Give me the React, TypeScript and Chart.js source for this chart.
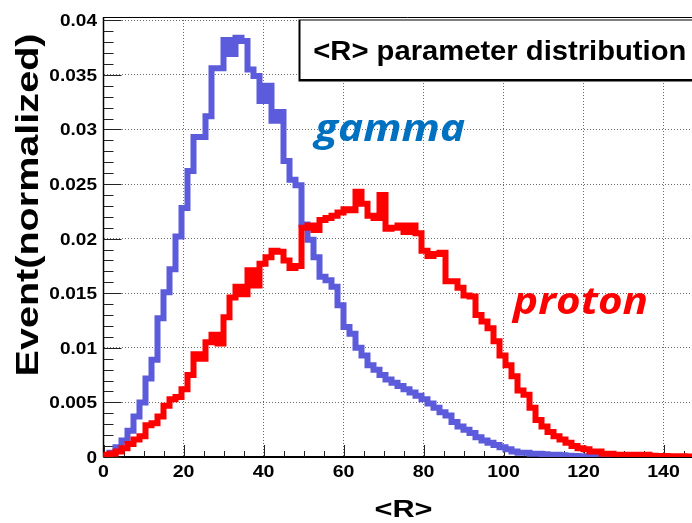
import React, { useEffect, useRef } from 'react';
import { Chart, registerables } from 'chart.js';

Chart.register(...registerables);

// Histogram binning: 100 bins of width 1.5 starting at 0
const BIN_WIDTH = 1.5;

// Normalized <R> distribution, gamma-ray events (one value per bin)
const GAMMA = [
  0.0001, 0.0004, 0.0009, 0.0015, 0.0024, 0.0037, 0.005, 0.0072, 0.0089, 0.0127,
  0.0151, 0.0172, 0.0202, 0.0228, 0.0262, 0.0293, 0.0293, 0.0312, 0.0356, 0.0356,
  0.0382, 0.0369, 0.0384, 0.0381, 0.0355, 0.0349, 0.0326, 0.034, 0.0308, 0.0316,
  0.0271, 0.0254, 0.0249, 0.0213, 0.0199, 0.0183, 0.0165, 0.0162, 0.0156, 0.0139,
  0.0119, 0.0113, 0.01, 0.0093, 0.0084, 0.008, 0.0075, 0.0071, 0.0068, 0.0065,
  0.0062, 0.0059, 0.0056, 0.0053, 0.0049, 0.0045, 0.0041, 0.0038, 0.0032, 0.0028,
  0.0025, 0.0022, 0.0018, 0.0015, 0.0013, 0.0011, 0.0009, 0.0007, 0.0005, 0.0004,
  0.0004, 0.0003, 0.0003, 0.00025, 0.0002, 0.0002, 0.00015, 0.00012, 0.0001, 0.00008,
  0.00007, 0.00005, 0.00004, 0.00003, 0.00002, 0, 0, 0, 0, 0,
  0, 0, 0, 0, 0, 0, 0, 0, 0, 0,
];

// Normalized <R> distribution, proton events (one value per bin)
const PROTON = [
  0.0002, 0.0003, 0.0005, 0.0008, 0.0012, 0.0016, 0.0019, 0.0029, 0.0031, 0.0037,
  0.0047, 0.0053, 0.0055, 0.0062, 0.0075, 0.0094, 0.009, 0.0105, 0.0112, 0.0104,
  0.0128, 0.0146, 0.0156, 0.0149, 0.0171, 0.0157, 0.0177, 0.0183, 0.0189, 0.0188,
  0.018, 0.0173, 0.0175, 0.021, 0.0212, 0.0208, 0.0217, 0.0219, 0.0221, 0.0224,
  0.0227, 0.0226, 0.0243, 0.0232, 0.0221, 0.0219, 0.024, 0.0209, 0.021, 0.0212,
  0.0206, 0.0212, 0.0205, 0.0189, 0.0184, 0.0186, 0.0187, 0.0161, 0.0161, 0.0155,
  0.0148, 0.0147, 0.013, 0.0124, 0.0118, 0.0106, 0.0093, 0.0084, 0.0074, 0.0061,
  0.0057, 0.0045, 0.0034, 0.0028, 0.0023, 0.0019, 0.0016, 0.0013, 0.001, 0.0008,
  0.0007, 0.0005, 0.0005, 0.0003, 0.0003, 0.0002, 0.0002, 0.00015, 0.0002, 0.0002,
  0.0002, 0.00012, 0.0001, 0.0001, 0.00008, 0.00008, 0.00006, 0.00005, 0.00004, 0.00003,
];

const X_RANGE = [0, 150];
const Y_RANGE = [0, 0.0403];

const X_TICKS = [0, 20, 40, 60, 80, 100, 120, 140];
const X_TICK_LABELS = ['0', '20', '40', '60', '80', '100', '120', '140'];
const X_MINOR_STEP = 5;

const Y_TICKS = [0, 0.005, 0.01, 0.015, 0.02, 0.025, 0.03, 0.035, 0.04];
const Y_TICK_LABELS = ['0', '0.005', '0.01', '0.015', '0.02', '0.025', '0.03', '0.035', '0.04'];
const Y_MINOR_STEP = 0.001;

const TITLE = '<R> parameter distribution';
const X_TITLE = '<R>';
const Y_TITLE = 'Event(normalized)';
const GAMMA_LABEL = { text: 'gamma', x: 52.9, y: 0.0289, color: '#0070c0' };
const PROTON_LABEL = { text: 'proton', x: 102.4, y: 0.0131, color: '#ff0000' };

const SANS = '"Liberation Sans", Arial, sans-serif';
const ITALIC_FONT = '"Open Sans", "Noto Sans", sans-serif';

// Step outline of a histogram: one point per bin low edge plus the last upper edge
function toSteps(values: number[]) {
  const pts = [{ x: 0, y: 0 }];
  values.forEach((v, i) => pts.push({ x: i * BIN_WIDTH, y: v }));
  pts.push({ x: values.length * BIN_WIDTH, y: values[values.length - 1] });
  return pts;
}

type TextOpts = {
  font: string;
  color?: string;
  align?: 'left' | 'center' | 'right';
  sx?: number;
  width?: number;
  rotate?: number;
};

// Draws text with an optional horizontal stretch (or a target width)
function drawText(ctx: CanvasRenderingContext2D, text: string, x: number, y: number, o: TextOpts) {
  ctx.save();
  ctx.font = o.font;
  ctx.fillStyle = o.color || '#000';
  ctx.textBaseline = 'alphabetic';
  ctx.textAlign = 'left';
  const natural = ctx.measureText(text).width;
  const sx = o.width ? o.width / natural : o.sx || 1;
  const w = natural * sx;
  ctx.translate(x, y);
  if (o.rotate) ctx.rotate(o.rotate);
  const left = o.align === 'center' ? -w / 2 : o.align === 'right' ? -w : 0;
  ctx.translate(left, 0);
  ctx.scale(sx, 1);
  ctx.fillText(text, 0, 0);
  ctx.restore();
}

const rootStyle = {
  id: 'rootStyle',
  beforeDatasetsDraw(chart: any) {
    const ctx: CanvasRenderingContext2D = chart.ctx;
    const xs = chart.scales.x;
    const ys = chart.scales.y;
    const { left, right, top, bottom } = chart.chartArea;
    ctx.save();
    ctx.strokeStyle = '#000';

    // frame: top line, left axis, bottom axis
    ctx.lineWidth = 1;
    ctx.beginPath();
    ctx.moveTo(left, Math.round(top) + 0.5);
    ctx.lineTo(chart.width, Math.round(top) + 0.5);
    ctx.stroke();
    ctx.lineWidth = 1.5;
    ctx.beginPath();
    ctx.moveTo(left, top);
    ctx.lineTo(left, bottom);
    ctx.stroke();
    ctx.lineWidth = 2;
    ctx.beginPath();
    ctx.moveTo(left, bottom);
    ctx.lineTo(right, bottom);
    ctx.stroke();

    // inward ticks
    ctx.lineWidth = 1;
    ctx.strokeStyle = '#222';
    const nx = Math.round((X_RANGE[1] - X_RANGE[0]) / X_MINOR_STEP);
    for (let i = 0; i <= nx; i++) {
      const v = X_RANGE[0] + i * X_MINOR_STEP;
      const px = Math.round(xs.getPixelForValue(v)) + 0.5;
      const major = X_TICKS.includes(v);
      ctx.beginPath();
      ctx.moveTo(px, bottom);
      ctx.lineTo(px, bottom - (major ? 12 : 6));
      ctx.stroke();
    }
    const ny = Math.round(Y_TICKS[Y_TICKS.length - 1] / Y_MINOR_STEP);
    for (let i = 0; i <= ny; i++) {
      const v = i * Y_MINOR_STEP;
      const py = Math.round(ys.getPixelForValue(v)) + 0.5;
      const major = i % 5 === 0;
      ctx.beginPath();
      ctx.moveTo(left, py);
      ctx.lineTo(left + (major ? 18 : 10), py);
      ctx.stroke();
    }
    ctx.restore();
  },
  afterDraw(chart: any) {
    const ctx: CanvasRenderingContext2D = chart.ctx;
    const xs = chart.scales.x;
    const ys = chart.scales.y;
    const { left, right, bottom } = chart.chartArea;

    // tick labels
    Y_TICKS.forEach((v, i) => {
      drawText(ctx, Y_TICK_LABELS[i], 97, ys.getPixelForValue(v) + 6, {
        font: `bold 17px ${SANS}`, align: 'right', sx: 1.12,
      });
    });
    X_TICKS.forEach((v, i) => {
      drawText(ctx, X_TICK_LABELS[i], xs.getPixelForValue(v), bottom + 20, {
        font: `bold 17px ${SANS}`, align: 'center', sx: 1.15,
      });
    });

    // axis titles
    drawText(ctx, X_TITLE, (left + right) / 2, 517, {
      font: `bold 24px ${SANS}`, align: 'center', width: 58,
    });
    drawText(ctx, Y_TITLE, 38, 205, {
      font: `bold 31px ${SANS}`, align: 'center', width: 343, rotate: -Math.PI / 2,
    });

    // title pave with shadow
    ctx.save();
    ctx.fillStyle = '#000';
    ctx.fillRect(298.5, 19.5, chart.width, 62);
    ctx.fillStyle = '#fff';
    ctx.fillRect(300.5, 20.5, chart.width, 58.5);
    ctx.restore();
    drawText(ctx, TITLE, 313.3, 59.5, { font: `bold 27px ${SANS}`, width: 373 });

    // species labels
    drawText(ctx, GAMMA_LABEL.text, xs.getPixelForValue(GAMMA_LABEL.x), ys.getPixelForValue(GAMMA_LABEL.y), {
      font: `italic bold 37px ${ITALIC_FONT}`, color: GAMMA_LABEL.color, width: 150,
    });
    drawText(ctx, PROTON_LABEL.text, xs.getPixelForValue(PROTON_LABEL.x), ys.getPixelForValue(PROTON_LABEL.y), {
      font: `italic bold 37px ${ITALIC_FONT}`, color: PROTON_LABEL.color, width: 135,
    });
  },
};

const CANVAS_W = 712;
const CANVAS_H = 523;

export default function App() {
  const ref = useRef<HTMLCanvasElement>(null);

  useEffect(() => {
    if (!ref.current) return;
    const gridColor = '#6a6a6a';
    const lineStyle = {
      borderWidth: 6,
      stepped: 'before' as const,
      pointRadius: 0,
      fill: false,
      borderJoinStyle: 'miter' as const,
    };
    const chart = new Chart(ref.current, {
      type: 'line',
      data: {
        datasets: [
          { label: 'proton', data: toSteps(PROTON), borderColor: '#ff0000', order: 0, ...lineStyle },
          { label: 'gamma', data: toSteps(GAMMA), borderColor: '#5b5bdc', order: 1, ...lineStyle },
        ],
      },
      options: {
        responsive: false,
        animation: false,
        events: [],
        layout: { padding: { left: 103.5, top: 17, right: CANVAS_W - 703.5, bottom: CANVAS_H - 457 } },
        plugins: {
          legend: { display: false },
          title: { display: false },
          tooltip: { enabled: false },
        },
        scales: {
          x: {
            type: 'linear',
            min: X_RANGE[0],
            max: X_RANGE[1],
            afterBuildTicks: (s: any) => {
              s.ticks = X_TICKS.map((v) => ({ value: v }));
            },
            ticks: { display: false },
            grid: { color: gridColor, lineWidth: 1, drawTicks: false },
            border: { display: false, dash: [1, 2] },
          },
          y: {
            type: 'linear',
            min: Y_RANGE[0],
            max: Y_RANGE[1],
            afterBuildTicks: (s: any) => {
              s.ticks = Y_TICKS.map((v) => ({ value: v }));
            },
            ticks: { display: false },
            grid: { color: gridColor, lineWidth: 1, drawTicks: false },
            border: { display: false, dash: [1, 2] },
          },
        },
      },
      plugins: [rootStyle],
    });
    return () => chart.destroy();
  }, []);

  return (
    <div
      style={{
        position: 'absolute',
        left: 0,
        top: 0,
        width: 692,
        height: 523,
        overflow: 'hidden',
        background: '#fff',
      }}
    >
      <canvas ref={ref} width={CANVAS_W} height={CANVAS_H} style={{ display: 'block' }} />
    </div>
  );
}
